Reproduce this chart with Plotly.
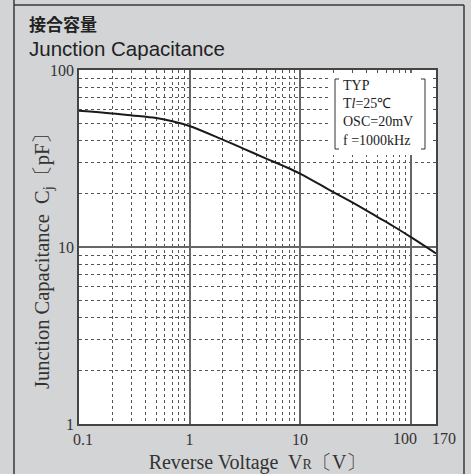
import math
import plotly.graph_objects as go

# reverse voltage (V) and junction capacitance (pF)
voltage = [0.1, 0.2, 0.3, 0.5, 0.7, 1, 2, 3, 5, 7, 10, 20, 30, 50, 70, 100, 170]
capacitance = [58.8, 56.8, 55.4, 53.5, 51.4, 48.3, 40.4, 36.2, 31.5, 28.8, 26.0,
               20.4, 17.8, 14.8, 13.1, 11.4, 9.2]

NB = "\u00a0"
x_ticks = [0.1, 1, 10, 100, 170]
x_tick_text = ["0.1", "1", "10", "100", "170"]
x_minor = [m * d for d in (0.1, 1, 10) for m in range(2, 10)]
y_ticks = [1, 10, 100]
y_minor = [m * d for d in (1, 10) for m in range(2, 10)]

legend_lines = ["TYP", "T<i>l</i>=25℃", "OSC=20mV", "f =1000kHz"]

SERIF = "Liberation Serif, Times New Roman, serif"
TXT = "#333333"
BG = "#d3d4d6"

# plot area in pixels: x 79..436, y 70..424
L, R, T, B = 79, 35, 70, 50
W, H = 471, 474
pw, ph = W - L - R, H - T - B
x_lo, x_hi = math.log10(x_ticks[0]), math.log10(x_ticks[-1])


def px(x):
    return (x - L) / pw


def py(y):
    return (H - B - y) / ph


fig = go.Figure()
fig.add_trace(go.Scatter(x=voltage, y=capacitance, mode="lines",
                         line=dict(color="#1a1a1a", width=2, shape="spline", smoothing=1),
                         showlegend=False, hoverinfo="skip"))

axis_common = dict(showline=True, linecolor="#444444", linewidth=1.5, mirror=True,
                   ticks="", gridcolor="#666666", gridwidth=1.5, zeroline=False,
                   automargin=False, tickangle=0,
                   tickfont=dict(family=SERIF, size=16, color=TXT))

# the last two x labels sit close together, so they are nudged apart as annotations
axis_labels = [NB * 2 + t if v == 0.1 else t for v, t in zip(x_ticks, x_tick_text)]
axis_labels = ["" if v >= 100 else t for v, t in zip(x_ticks, axis_labels)]

fig.update_xaxes(type="log", range=[x_lo, x_hi], tickmode="array",
                 tickvals=x_ticks, ticktext=axis_labels,
                 minor=dict(tickmode="array", tickvals=x_minor, showgrid=True,
                            gridcolor="#555555", griddash="dot", gridwidth=1, ticks=""),
                 title=dict(text="Reverse Voltage  V<span style='font-size:14px'>R</span>〔V〕",
                            font=dict(family=SERIF, size=20, color=TXT), standoff=8),
                 **axis_common)
fig.update_yaxes(type="log", range=[0, 2], tickmode="array", tickvals=y_ticks,
                 ticktext=[str(v) for v in y_ticks],
                 minor=dict(tickmode="array", tickvals=y_minor, showgrid=True,
                            gridcolor="#555555", griddash="dot", gridwidth=1, ticks=""),
                 **axis_common)

shapes = [
    # panel frame
    dict(type="line", xref="paper", yref="paper", x0=px(14), x1=px(14), y0=py(H + 5), y1=py(-5),
         line=dict(color="#3a3a3a", width=1.5)),
    dict(type="line", xref="paper", yref="paper", x0=px(14), x1=px(464), y0=py(5), y1=py(5),
         line=dict(color="#3a3a3a", width=1.5)),
    dict(type="line", xref="paper", yref="paper", x0=px(464), x1=px(464), y0=py(5), y1=py(H + 5),
         line=dict(color="#3a3a3a", width=1.5)),
    # legend box
    dict(type="rect", xref="paper", yref="paper", x0=px(331), x1=px(430), y0=py(155), y1=py(73),
         fillcolor="white", line=dict(width=0), layer="above"),
    dict(type="path", xref="paper", yref="paper", layer="above",
         path=f"M {px(339)} {py(79)} L {px(335)} {py(79)} L {px(335)} {py(149)} L {px(339)} {py(149)}",
         line=dict(color="#333333", width=1)),
    dict(type="path", xref="paper", yref="paper", layer="above",
         path=f"M {px(421)} {py(79)} L {px(425)} {py(79)} L {px(425)} {py(149)} L {px(421)} {py(149)}",
         line=dict(color="#333333", width=1)),
]

annotations = [
    dict(text="<b>接合容量</b>", xref="paper", yref="paper", x=px(27), y=py(24),
         xanchor="left", yanchor="middle", showarrow=False,
         font=dict(family="Noto Sans CJK JP", size=17, color="#222222")),
    dict(text="Junction Capacitance", xref="paper", yref="paper", x=px(27), y=py(49),
         xanchor="left", yanchor="middle", showarrow=False,
         font=dict(family="Liberation Sans, Arial", size=20.5, color="#222222")),
    dict(text="<br>".join(legend_lines), xref="paper", yref="paper", x=px(341), y=py(76),
         xanchor="left", yanchor="top", align="left", showarrow=False,
         font=dict(family=SERIF, size=14, color="#222222")),
    # y axis title, placed by hand to sit close to the tick labels
    dict(text="Junction Capacitance  C<sub>j</sub>〔pF〕", xref="paper", yref="paper",
         x=px(44), y=py(256), xanchor="center", yanchor="middle", textangle=-90,
         showarrow=False, font=dict(family=SERIF, size=20.5, color=TXT)),
]
for v, t in zip(x_ticks, x_tick_text):
    if v >= 100:
        annotations.append(dict(text=t, xref="paper", yref="paper",
                                x=(math.log10(v) - x_lo) / (x_hi - x_lo),
                                y=py(438), xanchor="center", yanchor="middle",
                                xshift=-6 if v == 100 else 8, showarrow=False,
                                font=dict(family=SERIF, size=16, color=TXT)))

fig.update_layout(width=W, height=H, margin=dict(l=L, r=R, t=T, b=B),
                  paper_bgcolor=BG, plot_bgcolor="white",
                  shapes=shapes, annotations=annotations, showlegend=False)

# drop the browser's default body margin so the figure sits at the page origin
fig.write_html("out.html", config={"displayModeBar": False},
               post_script="document.body.style.margin='0';document.body.style.background='%s';" % BG)
